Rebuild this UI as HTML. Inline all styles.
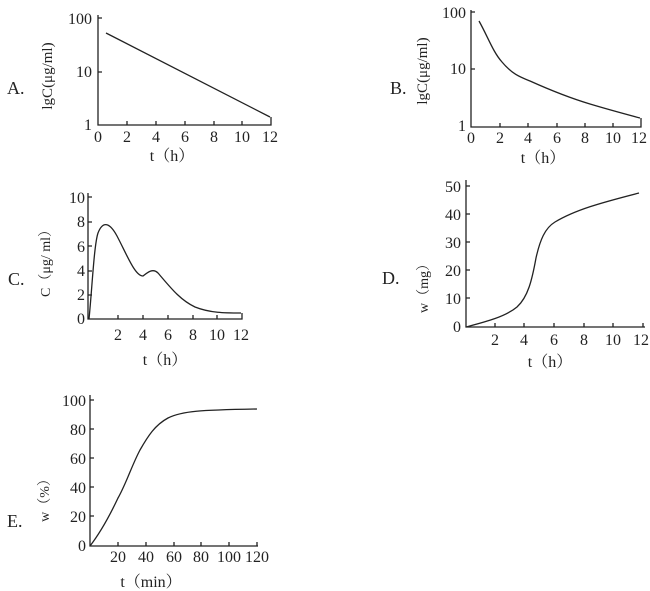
<!DOCTYPE html><html><head><meta charset="utf-8"><style>body{margin:0;background:#fff}svg{display:block}text{font-family:"Liberation Serif","Noto Serif CJK SC",serif;fill:#222}</style></head><body>
<svg width="650" height="591" viewBox="0 0 650 591" xmlns="http://www.w3.org/2000/svg">
<g stroke="#222" stroke-width="1.3" fill="none">
<path d="M98,15V125H271V117"/>
<path d="M98,18h4M98,72h4M127,125v-4M156,125v-4M185,125v-4M214,125v-4M242,125v-4"/>
<path d="M106,33L270,117"/>
<path d="M471,10V127H641V118"/>
<path d="M471,12h4M471,69h4M500,127v-4M528,127v-4M557,127v-4M585,127v-4M613,127v-4"/>
<path d="M479,21C488,37 493,52 502,62C512,74 520,77 530,81C550,90 570,98 590,104C610,110 625,114 640,118"/>
<path d="M88,193V319H242V313"/>
<path d="M88,197h4M88,222h4M88,246h4M88,271h4M88,295h4M118,319v-4M143,319v-4M168,319v-4M193,319v-4M217,319v-4"/>
<path d="M89,319C92,290 94,245 98,233C103,220 110,223 117,236C127,255 135,276 143,276C148,272 153,268 158,273C170,287 180,300 195,307C210,313 225,313 241,313"/>
<path d="M466,180V327H645"/>
<path d="M466,186h4M466,214h4M466,242h4M466,270h4M466,298h4M495,327v-4M524,327v-4M554,327v-4M584,327v-4M613,327v-4M643,327v-4"/>
<path d="M466,327C485,322 505,317 517,307C528,297 532,280 536,258C540,240 545,228 555,222C575,210 600,203 639,193"/>
<path d="M90,395V546H258"/>
<path d="M90,400h4M90,429h4M90,458h4M90,487h4M90,516h4M118,546v-4M146,546v-4M174,546v-4M201,546v-4M229,546v-4M257,546v-4"/>
<path d="M90,546C100,533 110,515 118,498C126,484 132,465 140,450C148,436 155,425 168,418C182,411 200,410 257,409"/>
</g>
<g font-size="16">
<text x="7" y="94" font-size="18">A.</text>
<text x="390" y="94" font-size="18">B.</text>
<text x="8" y="285" font-size="18">C.</text>
<text x="382" y="284" font-size="18">D.</text>
<text x="7" y="527" font-size="18">E.</text>
<g text-anchor="end">
<text x="92" y="24">100</text><text x="92" y="77">10</text><text x="92" y="130">1</text>
<text x="466" y="18">100</text><text x="466" y="74">10</text><text x="466" y="131">1</text>
<text x="85" y="203">10</text><text x="85" y="227">8</text><text x="85" y="252">6</text><text x="85" y="276">4</text><text x="85" y="300">2</text><text x="85" y="324">0</text>
<text x="461" y="192">50</text><text x="461" y="220">40</text><text x="461" y="248">30</text><text x="461" y="276">20</text><text x="461" y="304">10</text><text x="461" y="332">0</text>
<text x="86" y="406">100</text><text x="86" y="435">80</text><text x="86" y="464">60</text><text x="86" y="493">40</text><text x="86" y="522">20</text><text x="86" y="551">0</text>
</g>
<g text-anchor="middle">
<text x="98" y="142">0</text><text x="127" y="142">2</text><text x="156" y="142">4</text><text x="185" y="142">6</text><text x="214" y="142">8</text><text x="242" y="142">10</text><text x="270" y="142">12</text>
<text x="172" y="161">t（h）</text>
<text x="471" y="143">0</text><text x="500" y="143">2</text><text x="528" y="143">4</text><text x="557" y="143">6</text><text x="585" y="143">8</text><text x="613" y="143">10</text><text x="639" y="143">12</text>
<text x="543" y="163">t（h）</text>
<text x="118" y="340">2</text><text x="143" y="340">4</text><text x="168" y="340">6</text><text x="193" y="340">8</text><text x="217" y="340">10</text><text x="241" y="340">12</text>
<text x="165" y="365">t（h）</text>
<text x="495" y="345">2</text><text x="524" y="345">4</text><text x="554" y="345">6</text><text x="584" y="345">8</text><text x="613" y="345">10</text><text x="641" y="345">12</text>
<text x="550" y="367">t（h）</text>
<text x="118" y="562">20</text><text x="146" y="562">40</text><text x="174" y="562">60</text><text x="201" y="562">80</text><text x="229" y="562">100</text><text x="257" y="562">120</text>
<text x="151" y="587">t（min）</text>
</g>
<text transform="translate(52,76) rotate(-90)" text-anchor="middle" font-size="15">lgC(μg/ml)</text>
<text transform="translate(427,71) rotate(-90)" text-anchor="middle" font-size="15">lgC(μg/ml)</text>
<text transform="translate(50,260) rotate(-90)" text-anchor="middle" font-size="14">C（μg/ ml）</text>
<text transform="translate(428,285) rotate(-90)" text-anchor="middle" font-size="14">w（mg）</text>
<text transform="translate(49,497) rotate(-90)" text-anchor="middle" font-size="14">w（%）</text>
</g>
</svg></body></html>
